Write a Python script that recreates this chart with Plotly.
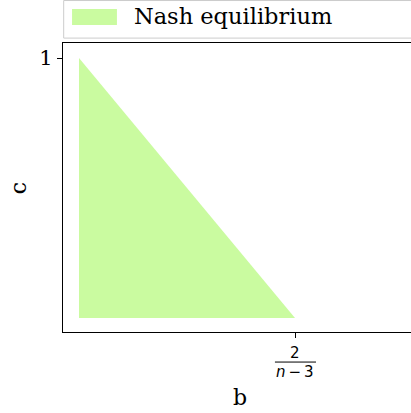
import plotly.graph_objects as go

# Nash equilibrium region: triangle with corners (0,0), (0,1), (2/(n-3),0); n = 5 here
b_max = 1.0
region_b = [0, 0, b_max, 0]
region_c = [0, 1, 0, 0]
y_ticks = [1]
y_tick_labels = ['1']
x_ticks = [b_max]
legend_label = 'Nash equilibrium'

GREEN = '#cafba0'
SERIF = 'DejaVu Serif'

fig = go.Figure()
fig.add_trace(go.Scatter(
    x=region_b, y=region_c,
    fill='toself', fillcolor=GREEN,
    mode='none', name=legend_label,
    hoverinfo='skip', showlegend=False
))

fig.update_layout(
    width=411, height=413,
    margin=dict(l=63, r=0, t=43, b=81, autoexpand=False),
    plot_bgcolor='white', paper_bgcolor='white',
    font=dict(family=SERIF, size=20, color='black'),
    showlegend=False,
)

fig.update_xaxes(
    range=[-0.074, 1.537], showgrid=False, zeroline=False, automargin=False,
    showline=True, linecolor='black', linewidth=1.2, mirror=True,
    tickvals=x_ticks, ticktext=[''], ticks='outside', ticklen=5,
    tickcolor='black',
)
fig.update_yaxes(
    range=[-0.054, 1.058], showgrid=False, zeroline=False, automargin=False,
    showline=True, linecolor='black', linewidth=1.2, mirror=False,
    tickvals=y_ticks, ticktext=y_tick_labels, ticks='outside', ticklen=5,
    tickcolor='black', tickfont=dict(family=SERIF, size=21),
)

# legend drawn by hand (matplotlib style box + patch)
fig.add_shape(type='rect', xref='paper', yref='paper',
              x0=0.002, x1=1.05, y0=1.017, y1=1.147,
              line=dict(color='#cccccc', width=1), fillcolor='white')
fig.add_shape(type='rect', xref='paper', yref='paper',
              x0=0.026, x1=0.155, y0=1.062, y1=1.118,
              line=dict(width=0), fillcolor=GREEN)
fig.add_annotation(x=0.199, xref='paper', y=1.092, yref='paper',
                   text=legend_label, showarrow=False, xanchor='left',
                   yanchor='middle', font=dict(family=SERIF, size=22.5))

# fraction tick label 2/(n-3)
fig.add_annotation(x=b_max, xref='x', y=-0.0727, yref='paper', text='2',
                   showarrow=False, font=dict(family='DejaVu Sans', size=15),
                   yanchor='middle')
fig.add_annotation(x=b_max, xref='x', y=-0.137, yref='paper',
                   text='<i>n</i>\u2009\u2212\u20093', showarrow=False,
                   font=dict(family='DejaVu Sans', size=15), yanchor='middle')
fig.add_shape(type='line', xref='paper', yref='paper',
              x0=0.609, x1=0.727, y0=-0.104, y1=-0.104,
              line=dict(color='black', width=1))

# axis labels
fig.add_annotation(x=0.509, xref='paper', y=-0.225, yref='paper', text='b',
                   showarrow=False, font=dict(family=SERIF, size=22),
                   yanchor='middle')
fig.add_annotation(x=-0.129, xref='paper', y=0.498, yref='paper', text='c',
                   showarrow=False, textangle=-90,
                   font=dict(family=SERIF, size=22), xanchor='center')

fig.write_html('out.html', config={'displayModeBar': False},
               post_script="document.body.style.margin='0';")
